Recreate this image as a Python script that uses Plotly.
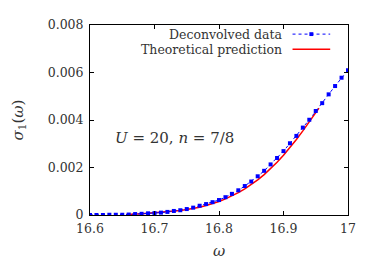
import plotly.graph_objects as go

# Deconvolved data
omega_data = [round(16.60 + 0.01 * i, 2) for i in range(41)]
sigma_data = [0.0, 0.0, 0.0, 0.00001, 0.00001, 0.00001, 0.00002, 0.00004, 0.00005, 0.00007,
              0.00008, 0.00010, 0.00013, 0.00017, 0.00020, 0.00025, 0.00031, 0.00039, 0.00046, 0.00054,
              0.00063, 0.00075, 0.00089, 0.00104, 0.00122, 0.00141, 0.00163, 0.00186, 0.00213, 0.00240,
              0.00269, 0.00302, 0.00333, 0.00368, 0.00401, 0.00438, 0.00471, 0.00508, 0.00543, 0.00578,
              0.00610]

# Theoretical prediction
omega_theory = [16.656, 16.66, 16.67, 16.68, 16.69, 16.70, 16.71, 16.72, 16.73, 16.74, 16.75, 16.76,
                16.77, 16.78, 16.79, 16.80, 16.81, 16.82, 16.83, 16.84, 16.85, 16.86, 16.87,
                16.88, 16.89, 16.90, 16.91, 16.92, 16.93, 16.94, 16.95, 16.955]
sigma_theory = [0.00002, 0.00003, 0.00004, 0.00005, 0.00007, 0.00009, 0.00011, 0.00013, 0.00016,
                0.00019, 0.00023, 0.00027, 0.00033, 0.00040, 0.00048, 0.00057, 0.00068, 0.00080,
                0.00094, 0.00110, 0.00128, 0.00148, 0.00170, 0.00195, 0.00222, 0.00252, 0.00284,
                0.00318, 0.00354, 0.00391, 0.00427, 0.00450]

x_ticks = [16.6, 16.7, 16.8, 16.9, 17.0]
x_tick_labels = ["16.6", "16.7", "16.8", "16.9", "17"]
y_ticks = [0, 0.002, 0.004, 0.006, 0.008]
y_tick_labels = ["0", "0.002", "0.004", "0.006", "0.008"]

legend_labels = ["Deconvolved data", "Theoretical prediction"]

FONT = "DejaVu Serif"
BLUE = "#0000ff"
RED = "#ff0000"
TXT = "#333"

fig = go.Figure()
fig.add_trace(go.Scatter(
    x=omega_theory, y=sigma_theory, mode="lines",
    line=dict(color=RED, width=1.5), name=legend_labels[1], showlegend=False))
fig.add_trace(go.Scatter(
    x=omega_data, y=sigma_data, mode="lines+markers",
    line=dict(color=BLUE, width=1, dash="dot"),
    marker=dict(symbol="square", size=4, color=BLUE),
    name=legend_labels[0], showlegend=False))

axis_common = dict(
    showline=True, linecolor="black", linewidth=1, mirror="allticks",
    ticks="inside", ticklen=4, tickcolor="black", showgrid=False, zeroline=False,
    tickfont=dict(family=FONT, size=12.5, color=TXT),
)

fig.update_layout(
    width=374, height=262,
    margin=dict(l=80, r=34, t=9, b=55),
    paper_bgcolor="white", plot_bgcolor="white",
    font=dict(family=FONT),
    xaxis=dict(range=[16.6, 17.0], tickvals=x_ticks, ticktext=x_tick_labels, ticklabelstandoff=2,
               title=dict(text="<i>ω</i>", font=dict(family=FONT, size=15, color=TXT), standoff=10),
               **axis_common),
    yaxis=dict(range=[0, 0.008], tickvals=y_ticks, ticktext=y_tick_labels, ticklabelstandoff=3,
               title=dict(text="<i>σ</i><sub>1</sub>(<i>ω</i>)", font=dict(family=FONT, size=15, color=TXT), standoff=20),
               **axis_common),
    showlegend=False,
)

# gnuplot-style legend: text on the left, sample on the right
leg_y = [0.952, 0.872]
for lbl, yy in zip(legend_labels, leg_y):
    fig.add_annotation(x=0.75, y=yy, xref="paper", yref="paper", text=lbl, showarrow=False,
                       xanchor="right", yanchor="middle",
                       font=dict(family=FONT, size=12.5, color=TXT))
fig.add_shape(type="line", xref="paper", yref="paper", x0=0.785, x1=0.931, y0=leg_y[0], y1=leg_y[0],
              line=dict(color=BLUE, width=1, dash="dot"))
fig.add_shape(type="rect", xref="paper", yref="paper", x0=0.858 - 0.0077, x1=0.858 + 0.0077,
              y0=leg_y[0] - 0.0101, y1=leg_y[0] + 0.0101, fillcolor=BLUE, line=dict(width=0))
fig.add_shape(type="line", xref="paper", yref="paper", x0=0.785, x1=0.931, y0=leg_y[1], y1=leg_y[1],
              line=dict(color=RED, width=1.5))

fig.add_annotation(x=0.088, y=0.404, xref="paper", yref="paper",
                   text="<i>U</i> = 20, <i>n</i> = 7/8", showarrow=False,
                   xanchor="left", yanchor="middle",
                   font=dict(family=FONT, size=15, color=TXT))

fig.write_html("out.html")
